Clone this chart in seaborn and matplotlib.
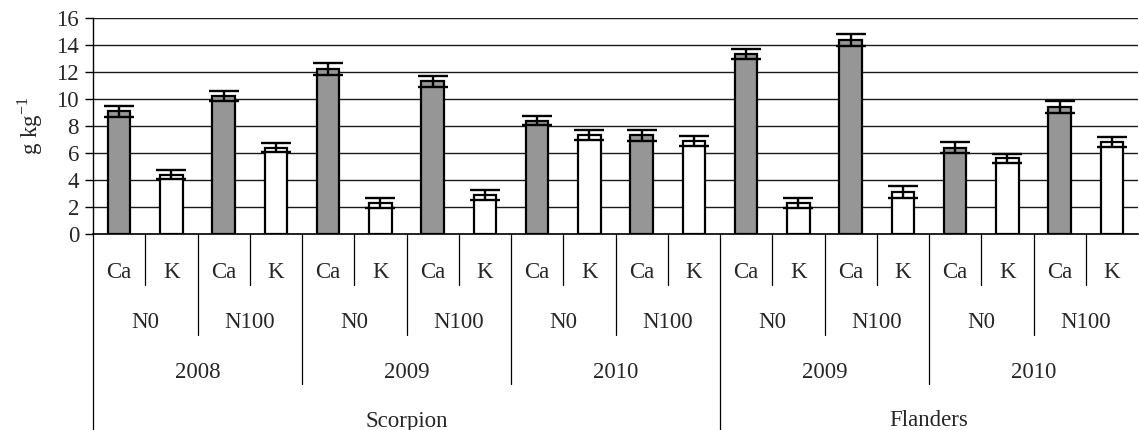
import matplotlib
matplotlib.use("Agg")
import matplotlib.pyplot as plt
import matplotlib.transforms as mtransforms
from matplotlib.lines import Line2D
import numpy as np
import pandas as pd
import seaborn as sns

# Grouping levels (outer to inner)
cultivars = ["Scorpion", "Flanders"]
years = {"Scorpion": ["2008", "2009", "2010"], "Flanders": ["2009", "2010"]}
n_levels = ["N0", "N100"]
elements = ["Ca", "K"]

# Concentrations (g kg-1), in order cultivar / year / N level
ca_values = [9.1, 10.2, 12.2, 11.3, 8.4, 7.3, 13.3, 14.4, 6.4, 9.4]
k_values = [4.4, 6.4, 2.3, 2.9, 7.3, 6.9, 2.3, 3.1, 5.6, 6.8]
ca_err = [0.40, 0.36, 0.43, 0.42, 0.35, 0.43, 0.37, 0.45, 0.42, 0.43]
k_err = [0.36, 0.35, 0.36, 0.36, 0.37, 0.36, 0.36, 0.42, 0.36, 0.35]

y_ticks = [0, 2, 4, 6, 8, 10, 12, 14, 16]

rows = []
i = 0
for cv in cultivars:
    for yr in years[cv]:
        for n in n_levels:
            rows.append(dict(cultivar=cv, year=yr, N=n, element="Ca",
                             value=ca_values[i], err=ca_err[i]))
            rows.append(dict(cultivar=cv, year=yr, N=n, element="K",
                             value=k_values[i], err=k_err[i]))
            i += 1
df = pd.DataFrame(rows)
df["slot"] = [f"{r.cultivar}|{r.year}|{r.N}|{r.element}" for r in df.itertuples()]

sns.set_theme(style="white")
plt.rcParams["font.family"] = ["Liberation Serif", "DejaVu Serif"]
plt.rcParams["font.size"] = 16

fig = plt.figure(figsize=(11.39, 4.30), dpi=100)
ax = fig.add_axes([93 / 1139, 1 - 234 / 430, (1138 - 93) / 1139, (234 - 18) / 430])

sns.barplot(data=df, x="slot", y="value", hue="element", order=list(df["slot"]),
            palette={"Ca": "#969696", "K": "white"}, dodge=False, width=0.43,
            edgecolor="black", linewidth=1.6, errorbar=None, legend=False,
            ax=ax, zorder=3)

pos = np.arange(len(df))
ax.errorbar(pos, df["value"], yerr=df["err"], fmt="none", ecolor="black",
            elinewidth=1.7, capsize=10.5, capthick=1.7, zorder=4)

ax.set_xlim(-0.5, len(df) - 0.5)
ax.set_ylim(0, 16)
ax.set_yticks(y_ticks)
ax.set_yticklabels([str(t) for t in y_ticks], fontsize=16.5)
ax.tick_params(axis="y", which="both", left=True, length=6, width=1,
               color="black", pad=4)
ax.tick_params(axis="x", bottom=False, labelbottom=False)
ax.set_xlabel("")
ax.set_ylabel(r"g kg$^{\mathregular{-1}}$", fontsize=16.5, labelpad=8)

ax.yaxis.grid(True, color="#1a1a1a", linewidth=1.0, zorder=0)
ax.set_axisbelow(True)
for s in ["top", "right"]:
    ax.spines[s].set_visible(False)
ax.spines["bottom"].set_color("black")
ax.spines["bottom"].set_linewidth(1.2)
ax.spines["left"].set_color("black")
ax.spines["left"].set_linewidth(1.0)

# Hierarchical category axis drawn below the bars
trans = mtransforms.blended_transform_factory(ax.transData, fig.transFigure)
def fy(px):
    return 1 - px / 430

y0 = fy(234)
line_kw = dict(color="black", linewidth=0.9, transform=trans, clip_on=False)

# left spine continues down through the label rows
fig.add_artist(Line2D([-0.5, -0.5], [y0, fy(430)], **line_kw))

for b in range(len(df) - 1):
    left, right = df.iloc[b], df.iloc[b + 1]
    if left.cultivar != right.cultivar:
        bottom = fy(430)
    elif left.year != right.year:
        bottom = fy(384)
    elif left.N != right.N:
        bottom = fy(335)
    else:
        bottom = fy(285)
    fig.add_artist(Line2D([b + 0.5, b + 0.5], [y0, bottom], **line_kw))

txt_kw = dict(transform=trans, ha="center", va="center", fontsize=16.5)
for p, r in enumerate(df.itertuples()):
    fig.text(p, fy(272), r.element, **txt_kw)
for keys, grp in df.groupby(["cultivar", "year", "N"], sort=False):
    fig.text(grp.index.values.mean(), fy(322), keys[2], **txt_kw)
for keys, grp in df.groupby(["cultivar", "year"], sort=False):
    fig.text(grp.index.values.mean(), fy(372), keys[1], **txt_kw)
for keys, grp in df.groupby(["cultivar"], sort=False):
    fig.text(grp.index.values.mean(), fy(421), keys[0], **txt_kw)

fig.savefig("out.png", dpi=100)
